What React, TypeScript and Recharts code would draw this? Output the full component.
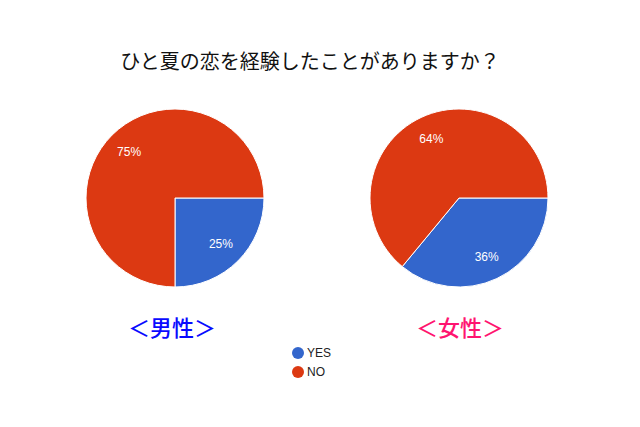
import { PieChart, Pie, Cell, Legend } from "recharts";

const categories = ["YES", "NO"];
const maleValues = [25, 75];
const femaleValues = [36, 64];
const groupLabels = ["＜男性＞", "＜女性＞"];
const title = "ひと夏の恋を経験したことがありますか？";
const colors = ["#3366cc", "#dc3912"];

const maleData = categories.map((name, i) => ({ name, value: maleValues[i] }));
const femaleData = categories.map((name, i) => ({ name, value: femaleValues[i] }));

const RAD = Math.PI / 180;

function renderLabel(props: any) {
  const { cx, cy, midAngle, outerRadius, percent } = props;
  const r = outerRadius * 0.73;
  const x = cx + r * Math.cos(-midAngle * RAD);
  const y = cy + r * Math.sin(-midAngle * RAD);
  return (
    <text
      x={x}
      y={y}
      fill="#ffffff"
      textAnchor="middle"
      dominantBaseline="central"
      fontSize={12}
      fontFamily="Liberation Sans, Arial, sans-serif"
    >
      {`${Math.round(percent * 100)}%`}
    </text>
  );
}

function LegendBox() {
  return (
    <div style={{ fontFamily: "Liberation Sans, Arial, sans-serif", fontSize: 12, color: "#222" }}>
      {categories.map((c, i) => (
        <div key={c} style={{ display: "flex", alignItems: "center", height: 19 }}>
          <svg width={12} height={12} style={{ marginRight: 3 }}>
            <circle cx={6} cy={6} r={6} fill={colors[i]} />
          </svg>
          <span>{c}</span>
        </div>
      ))}
    </div>
  );
}

export default function App() {
  return (
    <div style={{ position: "absolute", left: 0, top: 0, width: 640, height: 427, background: "#fff" }}>
      <div
        style={{
          position: "absolute",
          left: 0,
          width: 620,
          top: 47,
          textAlign: "center",
          fontFamily: "Noto Sans CJK JP, sans-serif",
          fontSize: 20,
          color: "#111",
          lineHeight: "28px",
        }}
      >
        {title}
      </div>
      <PieChart width={640} height={427} margin={{ top: 0, right: 0, bottom: 0, left: 0 }}>
        <Pie
          data={maleData}
          dataKey="value"
          nameKey="name"
          cx={175}
          cy={198}
          outerRadius={89}
          startAngle={0}
          endAngle={-360}
          stroke="#ffffff"
          strokeWidth={1}
          label={renderLabel}
          labelLine={false}
          isAnimationActive={false}
        >
          {maleData.map((d, i) => (
            <Cell key={d.name} fill={colors[i]} />
          ))}
        </Pie>
        <Pie
          data={femaleData}
          dataKey="value"
          nameKey="name"
          cx={459}
          cy={198}
          outerRadius={89}
          startAngle={0}
          endAngle={-360}
          stroke="#ffffff"
          strokeWidth={1}
          label={renderLabel}
          labelLine={false}
          isAnimationActive={false}
        >
          {femaleData.map((d, i) => (
            <Cell key={d.name} fill={colors[i]} />
          ))}
        </Pie>
        <Legend
          content={() => <LegendBox />}
          wrapperStyle={{ position: "absolute", left: 292, top: 343, width: 60 }}
        />
      </PieChart>
      {groupLabels.map((g, i) => (
        <div
          key={g}
          style={{
            position: "absolute",
            left: i === 0 ? 128 : 416,
            top: 311,
            fontFamily: "Noto Sans CJK JP, sans-serif",
            fontSize: 22,
            fontWeight: 500,
            lineHeight: "30px",
            color: i === 0 ? "#0a0aff" : "#ff1470",
          }}
        >
          {g}
        </div>
      ))}
    </div>
  );
}
